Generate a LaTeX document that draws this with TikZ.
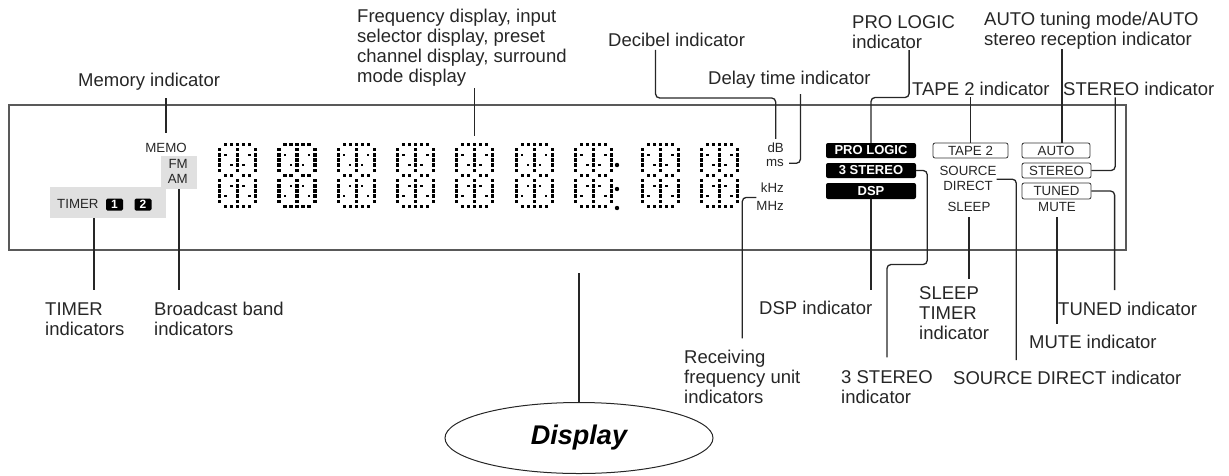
\documentclass[tikz,border=0pt]{standalone}
\usepackage{fontspec}
\setmainfont{Liberation Sans}
\usetikzlibrary{shapes.geometric}

\begin{document}
\begin{tikzpicture}[x=1pt,y=-1pt]
	\tikzset{
		lbl/.style={inner sep=0pt,align=left,text=black!85,font=\fontsize{18.5}{20}\selectfont},
		ind/.style={inner sep=0pt,text=black!85,font=\fontsize{13.3}{14}\selectfont},
		grybox/.style={fill=black!12,inner sep=0pt},
		numbox/.style={fill=black,text=white,rounded corners=1.5pt,inner sep=0pt,minimum width=17pt,minimum height=12pt,font=\bfseries\fontsize{12}{12}\selectfont},
		blkbox/.style={fill=black,text=white,rounded corners=2pt,inner sep=0pt,minimum width=90pt,minimum height=15pt,font=\bfseries\fontsize{13}{13}\selectfont},
		wbox/.style={draw=black!80,line width=0.8pt,fill=white,rounded corners=2pt,inner sep=0pt,minimum height=15pt,text=black!85,font=\fontsize{13.3}{14}\selectfont},
		digitcell/.style={inner sep=0pt,minimum width=39pt,minimum height=65pt},
		dotsq/.style={fill=black},
		leader/.style={draw=black!85,line width=1.3pt,rounded corners=4pt}
	}
	\useasboundingbox (0,0) rectangle (1229,475);

	%% display panel
	\node[draw=black!65,line width=1.4pt,minimum width=1117pt,minimum height=145pt,inner sep=0pt] (panel) at (567.5,177.5) {};

	%% left indicators
	\node[grybox,minimum width=116pt,minimum height=31pt] (tmbox) at (108,202.5) {};
	\node[ind,anchor=base west] (timer) at (57,208.75) {TIMER};
	\node[numbox] (t1) at (114.5,204.5) {1};
	\node[numbox] (t2) at (143,204.5) {2};
	\node[grybox,minimum width=36pt,minimum height=33pt] (fmbox) at (179,172.5) {};
	\node[ind,anchor=base] (memo) at (166,152.75) {MEMO};
	\node[ind,anchor=base east] (fm) at (188,168.75) {FM};
	\node[ind,anchor=base east] (am) at (188,183.75) {AM};

	%% dot matrix digits
	\foreach \dx [count=\k] in {218,277.3,336.7,396,455,514.7,574,641,700} {
		\node[digitcell] (d\k) at (\dx+19.5,175.5) {};
		\foreach \c in {1,...,5} {
			\fill[dotsq] (\dx+6*\c-0.2,142.8) rectangle ++(3.4,3.4);
			\fill[dotsq] (\dx+6*\c-0.2,204.8) rectangle ++(3.4,3.4);
		}
		\foreach \r in {1,2,3,4,5,7,8,9,10,11}
			\foreach \c in {0,3,6}
				\fill[dotsq] (\dx+6*\c-0.2,142.8+5.167*\r) rectangle ++(3.4,3.4);
		\foreach \c in {1,2,4,5}
			\fill[dotsq] (\dx+6*\c-0.2,173.8) rectangle ++(3.4,3.4);
		\foreach \c/\r in {1/2,2/4,5/2,4/4,2/8,1/10,4/8,5/10}
			\fill[dotsq] (\dx+0.3+6*\c,143.3+5.167*\r) rectangle ++(2.4,2.4);
	}
	\fill (617,165) circle (2.2pt);
	\fill (617,189) circle (2.2pt);
	\fill (617,208) circle (2.2pt);

	%% units
	\node[ind,anchor=base east] (db) at (784,152.75) {dB};
	\node[ind,anchor=base east] (ms) at (784,166.75) {ms};
	\node[ind,anchor=base east] (khz) at (784,192.75) {kHz};
	\node[ind,anchor=base east] (mhz) at (784,210.75) {MHz};

	%% right indicators
	\node[blkbox] (plbox) at (871,150.5) {PRO LOGIC};
	\node[blkbox] (s3box) at (871,170.5) {3 STEREO};
	\node[blkbox,minimum height=16pt] (dspbox) at (871,191) {DSP};
	\node[wbox,minimum width=75pt] (tpbox) at (970.5,150.5) {TAPE 2};
	\node[ind,anchor=base] (src) at (968,175.75) {SOURCE};
	\node[ind,anchor=base] (dir) at (968,190.75) {DIRECT};
	\node[ind,anchor=base] (sleep) at (969,211.75) {SLEEP};
	\node[wbox,minimum width=68pt] (aubox) at (1056,150.5) {AUTO};
	\node[wbox,minimum width=69pt] (stbox) at (1056.5,170.5) {STEREO};
	\node[wbox,minimum width=69pt,minimum height=16pt] (tnbox) at (1056.5,191) {TUNED};
	\node[ind,anchor=base] (mute) at (1057,211.75) {MUTE};

	%% labels above
	\node[lbl,anchor=base west] (memlbl) at (78,86.6) {Memory indicator};
	\node[lbl,anchor=north west] (freqlbl) at (357,8.4) {Frequency display, input\\selector display, preset\\channel display, surround\\mode display};
	\node[lbl,anchor=base west] (declbl) at (608,46.6) {Decibel indicator};
	\node[lbl,anchor=base west] (delaylbl) at (708,84.6) {Delay time indicator};
	\node[lbl,anchor=north west] (prolbl) at (852,15) {PRO LOGIC\\indicator};
	\node[lbl,anchor=base west] (tapelbl) at (912,95.6) {TAPE 2 indicator};
	\node[lbl,anchor=north west] (autolbl) at (984,11.4) {AUTO tuning mode/AUTO\\stereo reception indicator};
	\node[lbl,anchor=base west] (stlbl) at (1063,95.6) {STEREO indicator};

	%% labels below
	\node[lbl,anchor=north west] (timerlbl) at (45,302.4) {TIMER\\indicators};
	\node[lbl,anchor=north west] (bandlbl) at (154,301.4) {Broadcast band\\indicators};
	\node[lbl,anchor=north west] (frqlbl) at (684,349.4) {Receiving\\frequency unit\\indicators};
	\node[lbl,anchor=base west] (dsplbl) at (759,314.6) {DSP indicator};
	\node[lbl,anchor=north west] (st3lbl) at (841,370.4) {3 STEREO\\indicator};
	\node[lbl,anchor=north west] (sleeplbl) at (919,286.4) {SLEEP\\TIMER\\indicator};
	\node[lbl,anchor=base west] (srclbl) at (953,384.6) {SOURCE DIRECT indicator};
	\node[lbl,anchor=base west] (mutelbl) at (1029,348.6) {MUTE indicator};
	\node[lbl,anchor=base west] (tunedlbl) at (1058,315.6) {TUNED indicator};

	\node[draw=black!85,line width=1pt,ellipse,minimum width=268pt,minimum height=71pt,inner sep=0pt,font=\bfseries\itshape\fontsize{27}{27}\selectfont] (disp) at (579,438) {Display};
	\coordinate (dispend) at (579,273);

	%% leader lines
	\draw[leader,shorten <=7.5pt,shorten >=10pt] (memlbl.south -| memo.north) -- (memo.north);
	\draw[leader,shorten <=2pt,shorten >=7pt] (freqlbl.south -| d5.north) -- (d5.north);
	\draw[leader,shorten <=3pt,shorten >=4pt] ([xshift=-21pt]declbl.south) -- ++(0,51) -| (db.north);
	\draw[leader,shorten <=5pt,shorten >=5.5pt] (ms.east) -| ([xshift=11pt]delaylbl.south);
	\draw[leader,shorten <=1.5pt] ([xshift=5.5pt]prolbl.south) -- ++(0,49) -| (plbox.north);
	\draw[leader,shorten <=1.5pt] (tapelbl.south -| tpbox.north) -- (tpbox.north);
	\draw[leader] ([xshift=6pt]autolbl.south -| aubox.north) -- ([xshift=6pt]aubox.north);
	\draw[leader,shorten >=1.5pt] (stbox.east) -| ([xshift=-23.6pt]stlbl.south);
	\draw[leader,shorten >=12pt] ([xshift=-14pt]tmbox.south) -- ([xshift=-14pt]tmbox.south |- timerlbl.north);
	\draw[leader,shorten >=11pt] (fmbox.south) -- (fmbox.south |- bandlbl.north);
	\draw[leader,shorten >=11pt] (dspbox.south) -- (dspbox.south |- dsplbl.north);
	\draw[leader,shorten >=13pt] (s3box.east) -| ++(11,94) -| (st3lbl.north);
	\draw[leader,shorten >=11pt] ([yshift=4pt]mhz.north west) -| (frqlbl.north);
	\draw[leader,shorten <=5pt,shorten >=7pt] (sleep.south) -- (sleep.south |- sleeplbl.north);
	\draw[leader,shorten >=11pt] ([yshift=-8pt]src.east) -| ([xshift=-51pt]srclbl.north);
	\draw[leader,shorten <=5pt,shorten >=11pt] (mute.south) -- (mute.south |- mutelbl.north);
	\draw[leader,shorten >=12pt] (tnbox.east) -| ([xshift=-13pt]tunedlbl.north);
	\draw[leader] (disp.north) -- (dispend);
\end{tikzpicture}
\end{document}
